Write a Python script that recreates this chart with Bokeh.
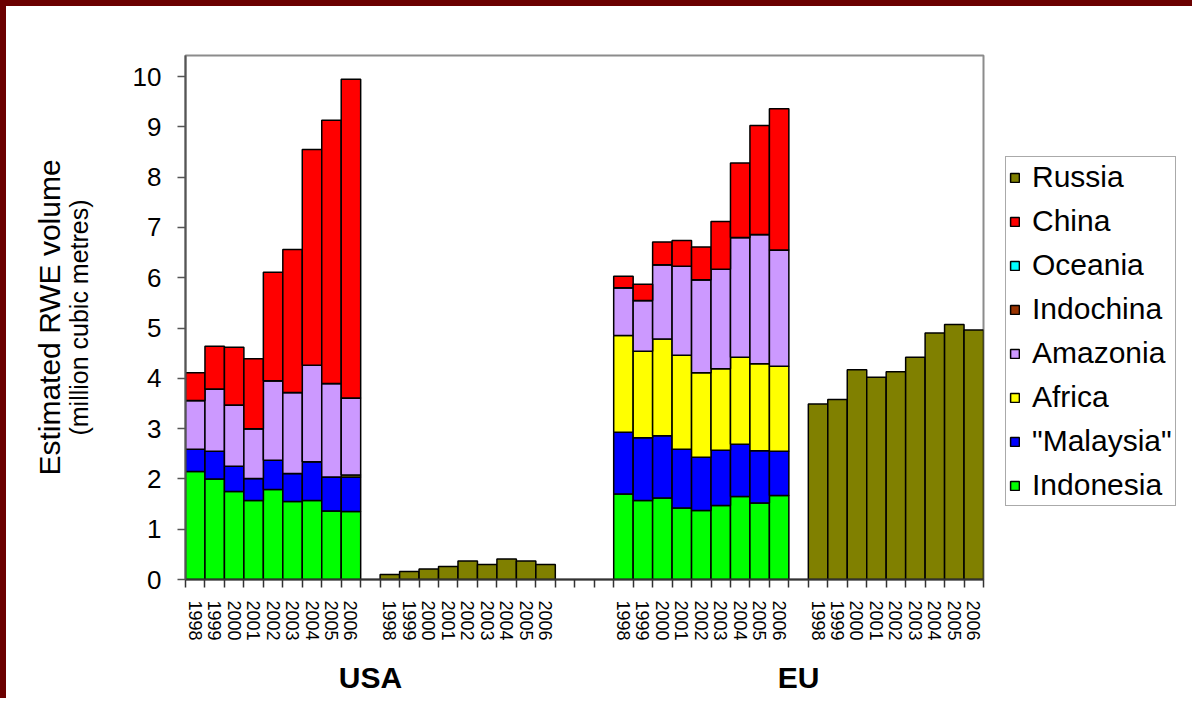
import math
from bokeh.plotting import figure
from bokeh.models import (ColumnDataSource, Range1d, FixedTicker, LinearAxis,
                          Legend, LegendItem)
from bokeh.embed import file_html
from bokeh.resources import INLINE

# ---------------- data ----------------
years = ["1998", "1999", "2000", "2001", "2002", "2003", "2004", "2005", "2006"]
groups = ["USA", "EU"]

# stack order (bottom -> top)
series = ["Indonesia", "\"Malaysia\"", "Africa", "Amazonia", "Indochina", "Oceania", "China"]

usa_indonesia = [2.15, 2.00, 1.75, 1.57, 1.79, 1.55, 1.57, 1.36, 1.35]
usa_malaysia  = [0.44, 0.55, 0.50, 0.44, 0.58, 0.56, 0.77, 0.68, 0.69]
usa_africa    = [0.00, 0.00, 0.00, 0.00, 0.00, 0.00, 0.00, 0.00, 0.04]
usa_amazonia  = [0.97, 1.24, 1.22, 0.99, 1.58, 1.61, 1.92, 1.86, 1.53]
usa_indochina = [0.00, 0.00, 0.00, 0.00, 0.00, 0.00, 0.00, 0.00, 0.00]
usa_oceania   = [0.00, 0.00, 0.00, 0.00, 0.00, 0.00, 0.00, 0.00, 0.00]
usa_china     = [0.55, 0.85, 1.15, 1.39, 2.16, 2.84, 4.29, 5.23, 6.34]
usa_russia    = [0.10, 0.16, 0.21, 0.26, 0.37, 0.30, 0.41, 0.37, 0.30]

eu_indonesia = [1.70, 1.57, 1.62, 1.42, 1.37, 1.47, 1.65, 1.52, 1.67]
eu_malaysia  = [1.23, 1.25, 1.24, 1.17, 1.06, 1.10, 1.04, 1.04, 0.88]
eu_africa    = [1.92, 1.72, 1.92, 1.87, 1.68, 1.62, 1.73, 1.73, 1.69]
eu_amazonia  = [0.95, 1.01, 1.48, 1.77, 1.85, 1.98, 2.38, 2.57, 2.31]
eu_indochina = [0.00, 0.00, 0.00, 0.00, 0.00, 0.00, 0.00, 0.00, 0.00]
eu_oceania   = [0.00, 0.00, 0.00, 0.00, 0.00, 0.00, 0.00, 0.00, 0.00]
eu_china     = [0.23, 0.32, 0.45, 0.51, 0.65, 0.95, 1.48, 2.17, 2.81]
eu_russia    = [3.49, 3.58, 4.17, 4.02, 4.13, 4.42, 4.90, 5.07, 4.96]

colors = {
    "Russia": "#808000",
    "China": "#FF0000",
    "Oceania": "#00FFFF",
    "Indochina": "#993300",
    "Amazonia": "#CC99FF",
    "Africa": "#FFFF00",
    "\"Malaysia\"": "#0000FF",
    "Indonesia": "#00FF00",
}

# ---------------- slot layout ----------------
n = len(years)
USA_START, USA_RU_START, EU_START, EU_RU_START, N_SLOTS = 0, 10, 22, 32, 41
usa_x = [USA_START + i for i in range(n)]
usa_ru_x = [USA_RU_START + i for i in range(n)]
eu_x = [EU_START + i for i in range(n)]
eu_ru_x = [EU_RU_START + i for i in range(n)]

stack_src = ColumnDataSource(dict(
    x=usa_x + eu_x,
    **{
        "Indonesia": usa_indonesia + eu_indonesia,
        "\"Malaysia\"": usa_malaysia + eu_malaysia,
        "Africa": usa_africa + eu_africa,
        "Amazonia": usa_amazonia + eu_amazonia,
        "Indochina": usa_indochina + eu_indochina,
        "Oceania": usa_oceania + eu_oceania,
        "China": usa_china + eu_china,
    }
))
ru_src = ColumnDataSource(dict(x=usa_ru_x + eu_ru_x, top=usa_russia + eu_russia))

FONT = "Liberation Sans"
EDGE = 6  # dark red slide frame on the left and top

p = figure(
    output_backend="svg", toolbar_location=None,
    frame_width=798, frame_height=524,
    min_border_left=185 - EDGE, min_border_right=201, min_border_top=55 - EDGE,
    min_border_bottom=119,
    x_range=Range1d(-0.5, N_SLOTS - 0.5), y_range=Range1d(0, 10.42),
    background_fill_color="white", border_fill_color="white",
    styles={"border-left": f"{EDGE}px solid #6b0000", "border-top": f"{EDGE}px solid #6b0000"},
)
p.xgrid.visible = False
p.ygrid.visible = False
p.outline_line_color = "#8c8c8c"
p.outline_line_width = 2

stack_renderers = p.vbar_stack(
    series, x="x", width=1.0, source=stack_src,
    color=[colors[s] for s in series], line_color="black", line_width=1.5,
)
ru_renderer = p.vbar(x="x", top="top", width=1.0, source=ru_src,
                     fill_color=colors["Russia"], line_color="black", line_width=1.5)

# ---------------- y axis ----------------
ya = p.yaxis[0]
ya.ticker = FixedTicker(ticks=list(range(11)))
ya.axis_line_color = "#555555"
ya.axis_line_width = 2
ya.major_tick_line_color = "#555555"
ya.major_tick_line_width = 1.5
ya.major_tick_out = 8
ya.major_tick_in = 0
ya.minor_tick_line_color = None
ya.major_label_standoff = 16
ya.major_label_text_font = FONT
ya.major_label_text_font_size = "26px"
ya.major_label_text_color = "black"
ya.axis_label = "(million cubic metres)"
ya.axis_label_text_font = FONT
ya.axis_label_text_font_size = "25px"
ya.axis_label_text_font_style = "normal"
ya.axis_label_text_color = "black"
ya.axis_label_standoff = 37

ytitle = LinearAxis(
    ticker=FixedTicker(ticks=[]), axis_line_color=None,
    major_tick_line_color=None, minor_tick_line_color=None,
    major_tick_out=0, minor_tick_out=0,
    axis_label="Estimated RWE volume", axis_label_text_font=FONT,
    axis_label_text_font_size="30px", axis_label_text_font_style="normal",
    axis_label_text_color="black", axis_label_standoff=-4,
)
p.add_layout(ytitle, "left")

# ---------------- x axis ----------------
centers = usa_x + usa_ru_x + eu_x + eu_ru_x
overrides = {}
for xs in (usa_x, usa_ru_x, eu_x, eu_ru_x):
    for xv, yr in zip(xs, years):
        overrides[xv] = yr

xa = p.xaxis[0]
xa.ticker = FixedTicker(ticks=centers, minor_ticks=[i - 0.5 for i in range(N_SLOTS + 1)])
xa.major_label_overrides = overrides
xa.axis_line_color = "#333333"
xa.axis_line_width = 2
xa.major_tick_line_color = None
xa.major_tick_out = 8
xa.major_tick_in = 0
xa.minor_tick_line_color = "#333333"
xa.minor_tick_line_width = 1.5
xa.minor_tick_out = 8
xa.minor_tick_in = 0
xa.major_label_orientation = -math.pi / 2
xa.major_label_standoff = 13
xa.major_label_text_font = FONT
xa.major_label_text_font_size = "18px"
xa.major_label_text_color = "black"

group_centers = [(USA_START + USA_RU_START + n - 1) / 2, (EU_START + EU_RU_START + n - 1) / 2]
gx = LinearAxis(
    ticker=FixedTicker(ticks=group_centers),
    major_label_overrides={c: g for c, g in zip(group_centers, groups)},
    axis_line_color=None, major_tick_line_color=None, minor_tick_line_color=None,
    major_tick_out=0, minor_tick_out=0, major_label_standoff=17,
    major_label_text_font=FONT, major_label_text_font_size="30px",
    major_label_text_font_style="bold", major_label_text_color="black",
)
p.add_layout(gx, "below")

# ---------------- legend ----------------
legend_order = ["Russia", "China", "Oceania", "Indochina", "Amazonia", "Africa", "\"Malaysia\"", "Indonesia"]
rmap = {s: r for s, r in zip(series, stack_renderers)}
rmap["Russia"] = ru_renderer
legend = Legend(
    items=[LegendItem(label=s, renderers=[rmap[s]]) for s in legend_order],
    location=(22, 73),
    label_text_font=FONT, label_text_font_size="30px", label_text_color="black",
    glyph_width=11, glyph_height=11, label_standoff=12,
    label_height=34, spacing=10, padding=3, margin=0,
    border_line_color="#555555", border_line_width=1.5,
    background_fill_color="white", background_fill_alpha=1.0,
)
p.add_layout(legend, "right")

open("out.html", "w").write(file_html(p, INLINE))
